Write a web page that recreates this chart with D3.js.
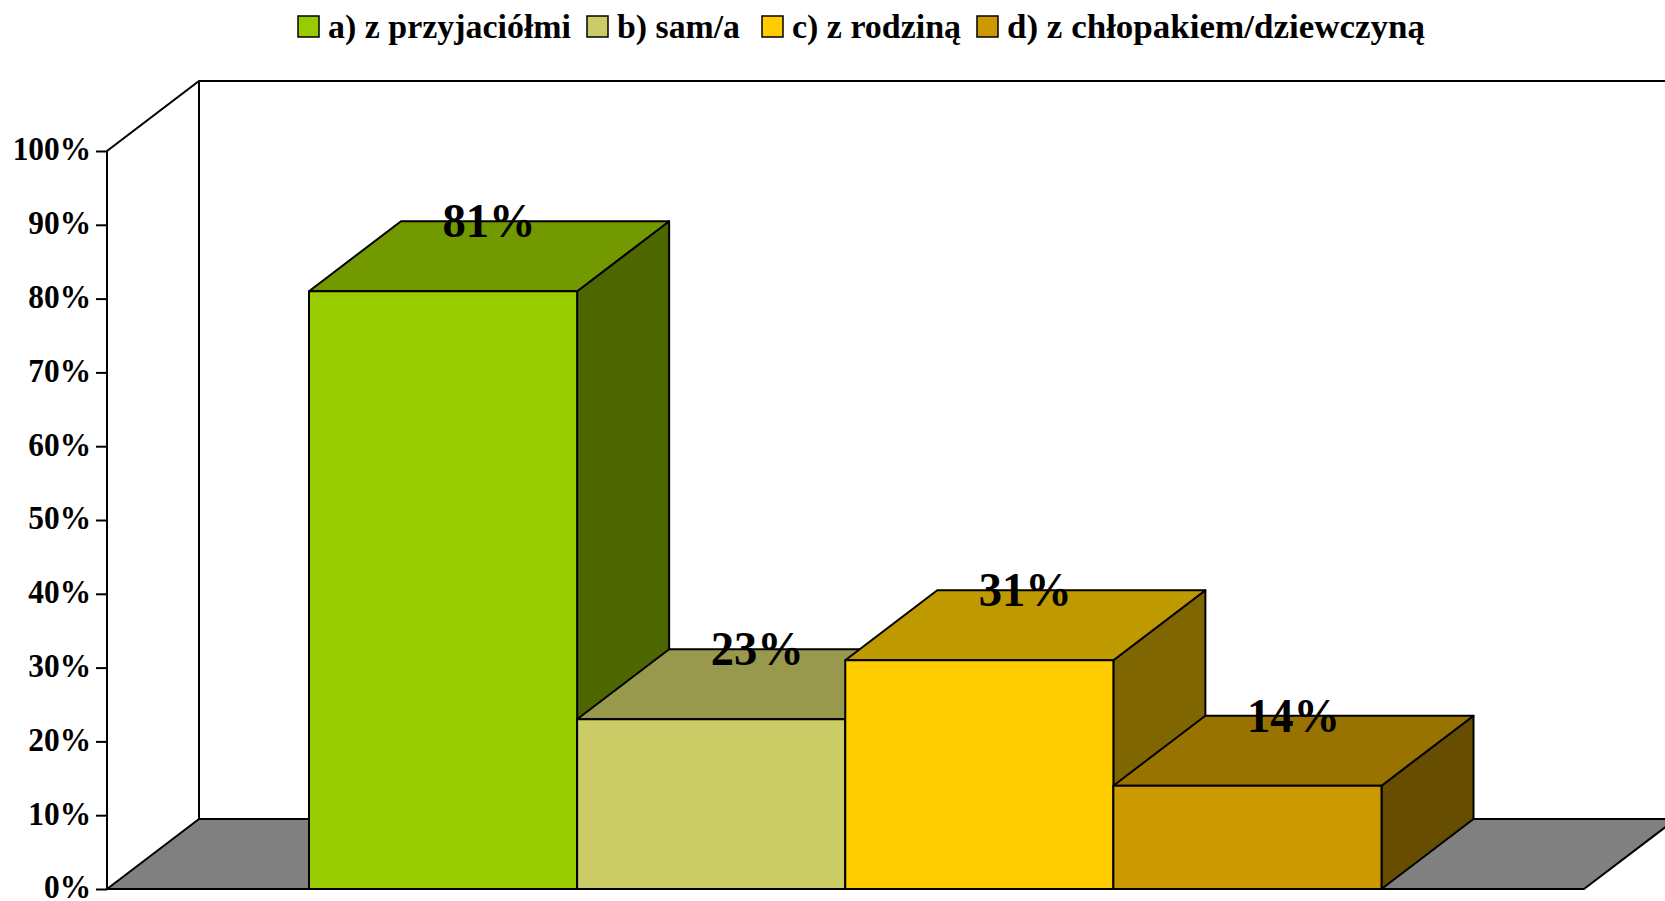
<!DOCTYPE html>
<html><head><meta charset="utf-8">
<script src="https://cdnjs.cloudflare.com/ajax/libs/d3/7.8.5/d3.min.js"></script>
<style>html,body{margin:0;padding:0;background:#fff;overflow:hidden}svg{display:block}text{font-family:"Liberation Serif",serif;font-weight:bold;fill:#000}</style>
</head><body><svg id="c" width="1665" height="901"></svg>
<script>
const categories=["a) z przyjaciółmi","b) sam/a","c) z rodziną","d) z chłopakiem/dziewczyną"];
const values=[81,23,31,14];
const frontColors=["#99CC00","#CCCC66","#FFCC00","#CC9900"];
const topColors=["#739900","#99994D","#BF9900","#997300"];
const sideColors=["#4D6600","#666633","#806600","#664D00"];
const yTicks=[0,10,20,30,40,50,60,70,80,90,100];

const svg=d3.select("#c");
const x0=107,x1=1584,dx=92,dy=-70;
const y=d3.scaleLinear().domain([0,100]).range([889,151]);
const x=d3.scaleBand().domain(categories).range([309,1381.5]).padding(0);
const poly=(pts,fill)=>svg.append("polygon").attr("points",pts.map(p=>p.join(",")).join(" ")).attr("fill",fill).attr("stroke","#000").attr("stroke-width",2).attr("stroke-linejoin","round");
const squeeze=(sel,k)=>sel.each(function(){d3.select(this).attr("textLength",this.getComputedTextLength()*k).attr("lengthAdjust","spacingAndGlyphs");});

// walls and floor
poly([[x0,y(0)],[x0+dx,y(0)+dy],[x1+dx,y(0)+dy],[x1,y(0)]],"#808080");
const wall=[[x0,y(0)],[x0,y(100)],[x0+dx,y(100)+dy],[x1+dx,y(100)+dy]];
svg.append("polyline").attr("points",wall.map(p=>p.join(",")).join(" ")).attr("fill","none").attr("stroke","#000").attr("stroke-width",2);
svg.append("line").attr("x1",x0+dx).attr("x2",x0+dx).attr("y1",y(100)+dy).attr("y2",y(0)+dy).attr("stroke","#000").attr("stroke-width",2);

// axis
const axis=d3.axisLeft(y).tickValues(yTicks).tickSize(11).tickPadding(5).tickFormat(d=>d+"%");
const ag=svg.append("g").attr("transform",`translate(${x0},0)`).call(axis);
ag.select(".domain").remove();
ag.selectAll("line").attr("stroke","#000").attr("stroke-width",2);
ag.selectAll("text").style("font-size","33px").attr("font-family",null).attr("dy","0.27em").call(squeeze,0.95);

// bars
categories.forEach((c,i)=>{
  const l=x(c),r=l+x.bandwidth(),t=y(values[i]),b=y(0);
  poly([[r,b],[r+dx,b+dy],[r+dx,t+dy],[r,t]],sideColors[i]);
  poly([[l,t],[l+dx,t+dy],[r+dx,t+dy],[r,t]],topColors[i]);
  poly([[l,b],[l,t],[r,t],[r,b]],frontColors[i]);
});
// data labels
categories.forEach((c,i)=>{
  svg.append("text").attr("x",x(c)+x.bandwidth()/2+dx/2).attr("y",y(values[i])+dy+16)
    .attr("text-anchor","middle").style("font-size","49px").text(values[i]+"%").call(squeeze,0.95);
});
// legend
const legendX=[298,587,762,977];
const legendW=[243,123,169,418];
const lg=svg.append("g");
categories.forEach((c,i)=>{
  lg.append("rect").attr("x",legendX[i]).attr("y",16).attr("width",21).attr("height",21).attr("fill",frontColors[i]).attr("stroke","#000").attr("stroke-width",1.5);
  lg.append("text").attr("x",legendX[i]+30).attr("y",38).style("font-size","33px").attr("textLength",legendW[i]).attr("lengthAdjust","spacingAndGlyphs").text(c);
});
</script></body></html>
